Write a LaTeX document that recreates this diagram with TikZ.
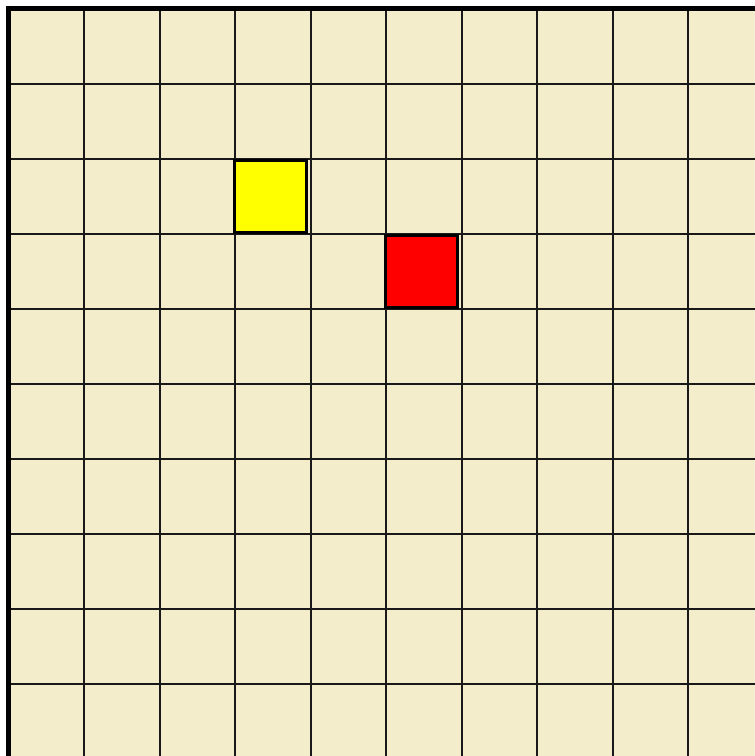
\documentclass[tikz,border=0pt]{standalone}
\usepackage{tikz}
\definecolor{boardbeige}{HTML}{F4EDCC}
\definecolor{markyellow}{HTML}{FFFF00}
\definecolor{markred}{HTML}{FF0000}
\tikzset{
  gridline/.style={line width=2pt, black!90},
  boardedge/.style={line width=5pt, black},
  marker/.style={line width=3pt, black},
}
\begin{document}
\begin{tikzpicture}[x=1pt,y=-1pt]
\useasboundingbox (0,0) rectangle (755,756);
\fill[white] (0,0) rectangle (755,756);
\fill[boardbeige] (8.5,8.5) rectangle (755,756);
% inner grid
\foreach \k in {1,...,9} {
  \draw[gridline] ({8.5+75.5*\k},8.5)--({8.5+75.5*\k},756);
  \draw[gridline] (8.5,{8.5+75*\k})--(755,{8.5+75*\k});
}
% outer edge
\draw[boardedge] (8.5,756)--(8.5,8.5)--(755,8.5);
% marked cells
\draw[marker,fill=markyellow] (234.5,160) rectangle (306,232);
\draw[marker,fill=markred] (385,235.5) rectangle (457,307);
\end{tikzpicture}
\end{document}
